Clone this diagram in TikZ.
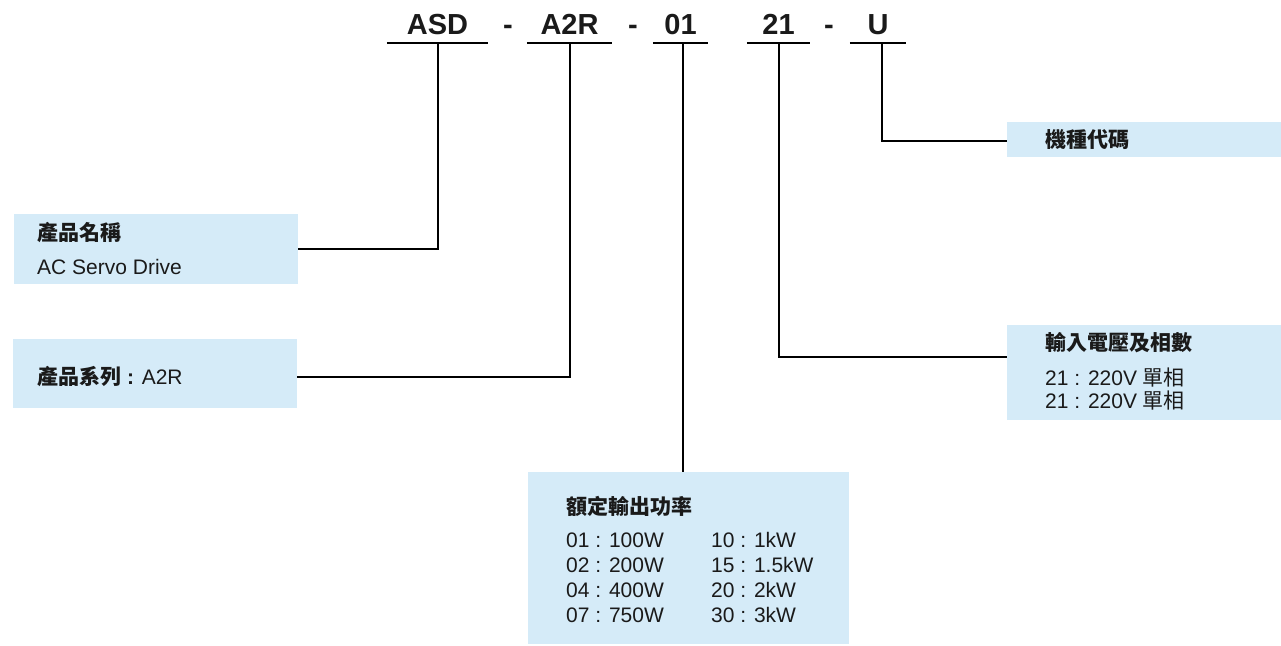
\documentclass[tikz,border=0pt]{standalone}
\usepackage{fontspec}
\setmainfont{Liberation Sans}
\newfontfamily\cjk{Noto Sans CJK TC}
\usepackage{tikz}
\usetikzlibrary{positioning}
\usepackage{xcolor}
\definecolor{boxblue}{RGB}{213,235,248}
\definecolor{ink}{RGB}{26,26,26}

\begin{document}
\begin{tikzpicture}[x=1pt, y=-1pt,
        code/.style={font=\fontsize{29}{29}\selectfont\bfseries, text=ink, inner xsep=0pt, inner ysep=8pt, text depth=0pt, anchor=south},
        infobox/.style={fill=boxblue, inner sep=0pt},
        label/.style={font=\fontsize{21}{25}\selectfont, text=ink, inner sep=0pt, anchor=base west},
        link/.style={line width=2pt, black}]
            \useasboundingbox (0,0) rectangle (1281,645);

            \node[code, minimum width=101pt] (asd) at (437.5,43) {ASD};
            \node[code] (d1) at (508,43) {-};
            \node[code, minimum width=85pt] (a2r) at (569.5,43) {A2R};
            \node[code] (d2) at (633,43) {-};
            \node[code, minimum width=55pt] (n01) at (680.5,43) {01};
            \node[code, minimum width=63pt] (n21) at (778.5,43) {21};
            \node[code] (d3) at (829,43) {-};
            \node[code, minimum width=56pt] (u) at (878,43) {U};

            \node[infobox, minimum width=284pt, minimum height=70pt] (name) at (156,249) {};
            \node[infobox, minimum width=284pt, minimum height=69pt] (series) at (155,373.5) {};
            \node[infobox, minimum width=274pt, minimum height=35pt] (model) at (1144,139.5) {};
            \node[infobox, minimum width=274pt, minimum height=95pt] (volt) at (1144,372.5) {};
            \node[infobox, minimum width=321pt, minimum height=172pt] (power) at (688.5,558) {};

            \node[label] (name_t) at (37,240) {\cjk\bfseries 產品名稱};
            \node[label] (name_v) at (37,274) {AC Servo Drive};
            \node[label] (series_t) at (37,384) {{\cjk\bfseries 產品系列}\textbf{ : }A2R};
            \node[label] (model_t) at (1045,147) {\cjk\bfseries 機種代碼};
            \node[label] (volt_t) at (1045,350) {\cjk\bfseries 輸入電壓及相數};
            \node[label] (volt_1) at (1045,385) {21 : 220V {\cjk 單相}};
            \node[label] (volt_2) at (1045,408) {21 : 220V {\cjk 單相}};
            \node[label] (power_t) at (566,514) {\cjk\bfseries 額定輸出功率};
            \node[label] (p01) at (566,547) {01 : 100W};
            \node[label] (p02) at (566,572) {02 : 200W};
            \node[label] (p04) at (566,597) {04 : 400W};
            \node[label] (p07) at (566,622) {07 : 750W};
            \node[label] (p10) at (711,547) {10 : 1kW};
            \node[label] (p15) at (711,572) {15 : 1.5kW};
            \node[label] (p20) at (711,597) {20 : 2kW};
            \node[label] (p30) at (711,622) {30 : 3kW};

            % underlines
            \foreach \seg in {asd, a2r, n01, n21, u}
                \draw[link] (\seg.south west) -- (\seg.south east);

            % links
            \draw[link] (asd.south) |- (name.east);
            \draw[link] (a2r.south) |- ([yshift=-3.5pt]series.east);
            \draw[link] ([xshift=2.5pt]n01.south) -- ([xshift=2.5pt]n01.south |- power.north);
            \draw[link] (n21.south) |- ([yshift=15.5pt]volt.west);
            \draw[link] ([xshift=4pt]u.south) |- ([yshift=-1.5pt]model.west);
        \end{tikzpicture}
\end{document}
